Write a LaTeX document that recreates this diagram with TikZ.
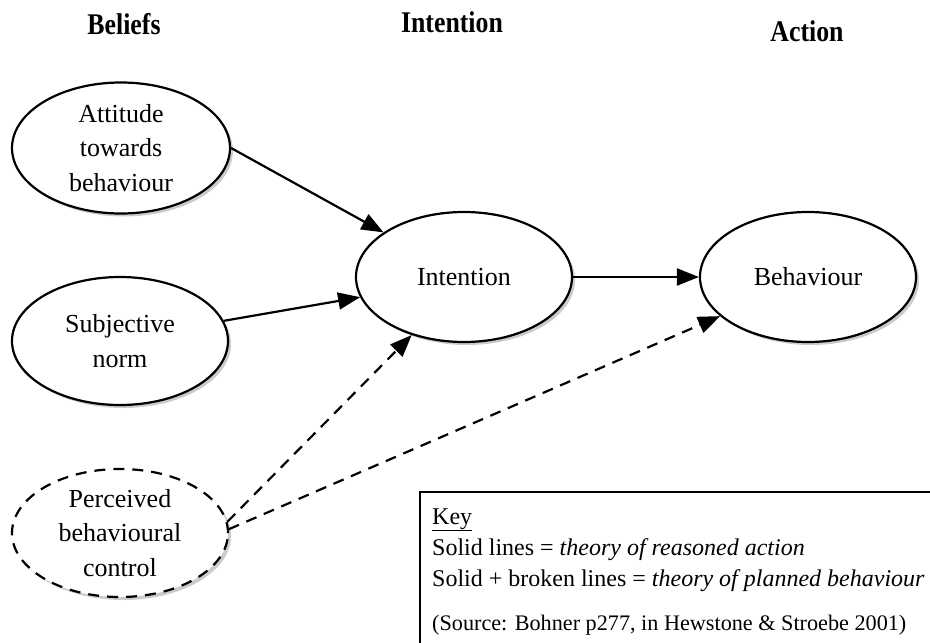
\documentclass[tikz,border=0pt]{standalone}
\usepackage{fontspec}
\setmainfont{Liberation Serif}
\usetikzlibrary{arrows.meta,shadows,shapes.geometric}
\begin{document}
\begin{tikzpicture}[x=1pt,y=-1pt,
  ell/.style={ellipse, draw, line width=2.2pt, fill=white, minimum width=216pt, minimum height=128pt,
    inner sep=0pt, align=center, font=\fontsize{26}{34.5}\selectfont,
    drop shadow={shadow xshift=3pt, shadow yshift=-3pt, fill=black!45, opacity=0.45}},
  dashell/.style={ell, dash pattern=on 11pt off 8pt},
  hdr/.style={font=\bfseries\fontsize{30}{32}\selectfont},
  arr/.style={line width=2.2pt, -{Triangle[length=22pt,width=17pt]}},
  darr/.style={arr, dash pattern=on 11pt off 8pt},
  keytxt/.style={anchor=base west, inner sep=0pt, font=\fontsize{24}{26}\selectfont}
]
\useasboundingbox (0,0) rectangle (930,643);
\clip (0,0) rectangle (930,643);

\node[hdr] (hb) at (124,24) {\scalebox{0.86}[1]{Beliefs}};
\node[hdr] (hi) at (452,22) {\scalebox{0.86}[1]{Intention}};
\node[hdr] (ha) at (807,31) {\scalebox{0.86}[1]{Action}};

\node[ell, minimum width=218pt, minimum height=131pt] (att) at (121,148) {Attitude\\towards\\behaviour};
\node[ell] (sub) at (120,341) {Subjective\\norm};
\node[dashell] (per) at (120,533) {Perceived\\behavioural\\control};
\node[ell, minimum height=130pt] (int) at (464,277) {Intention};
\node[ell, minimum height=130pt] (beh) at (808,277) {Behaviour};

\draw[arr] (att.east) -- (int.151);
\draw[arr] (sub.11) -- (int.191);
\draw[darr] (per.6) -- (int.228);
\draw[darr] (per.2) -- (beh.204);
\draw[arr] (int.east) -- (beh.west);

\draw[line width=2.2pt] (420,660) -- (420,492) -- (940,492);
\node[keytxt] (k1) at (432,524) {\underline{Key}};
\node[keytxt] (k2) at (432,555) {Solid lines = \textit{theory of reasoned action}};
\node[keytxt] (k3) at (432,586) {Solid + broken lines = \textit{theory of planned behaviour}};
\node[keytxt, font=\fontsize{22.2}{24}\selectfont] (k4) at (432,630) {(Source: Bohner p277, in Hewstone \& Stroebe 2001)};
\end{tikzpicture}
\end{document}
